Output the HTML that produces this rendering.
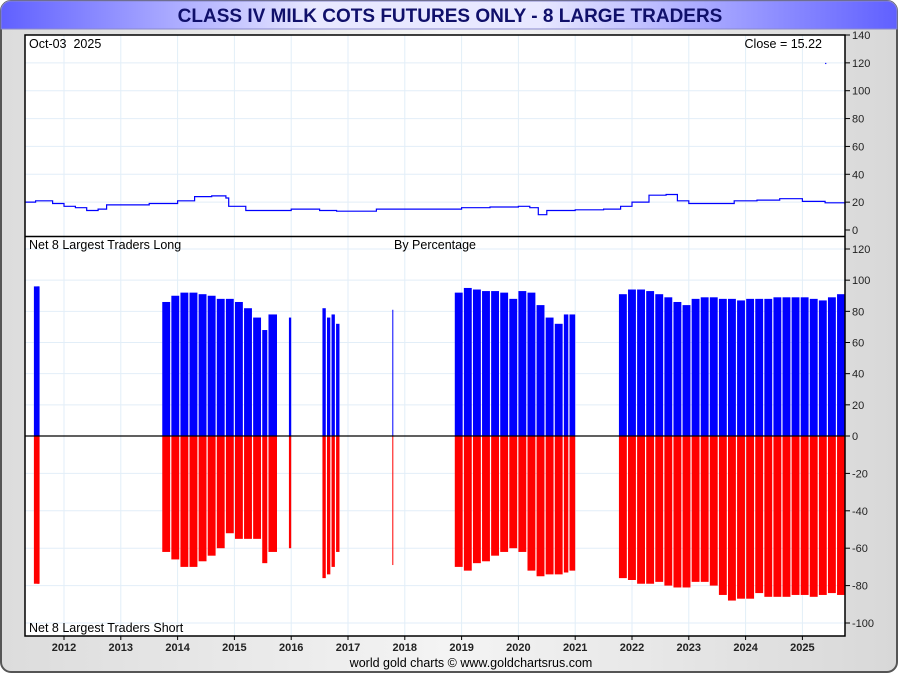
<!DOCTYPE html>
<html><head><meta charset="utf-8"><style>
html,body{margin:0;padding:0;background:#fff}
svg{display:block;font-family:"Liberation Sans",Arial,sans-serif}
</style></head><body>
<svg id="c" width="900" height="675" viewBox="0 0 900 675">
<defs>
<linearGradient id="tb" x1="0" x2="1" y1="0" y2="0"><stop offset="0" stop-color="#6060ff"/><stop offset="0.35" stop-color="#e8e8ff"/><stop offset="0.6" stop-color="#e8e8ff"/><stop offset="1" stop-color="#6060ff"/></linearGradient>
<linearGradient id="bg" x1="0" x2="1" y1="0" y2="0"><stop offset="0" stop-color="#dcdcdc"/><stop offset="0.5" stop-color="#f4f4f4"/><stop offset="1" stop-color="#d8d8d8"/></linearGradient>
</defs>
<rect x="1" y="1" width="896" height="671" rx="10" fill="url(#bg)" stroke="#555" stroke-width="2"/>
<path d="M1 29 V11 A10 10 0 0 1 11 1 H887 A10 10 0 0 1 897 11 V29 Z" fill="url(#tb)" stroke="#8888cc"/>
<text x="450" y="22" text-anchor="middle" font-size="19" font-weight="bold" fill="#10106a">CLASS IV MILK COTS FUTURES ONLY - 8 LARGE TRADERS</text>
<rect x="25" y="35" width="820" height="601" fill="#fff"/>
<g id="grid"></g>
<g id="topg"></g>
<g id="bars"></g>
<line x1="25" x2="845" y1="236.5" y2="236.5" stroke="#000" stroke-width="1.5"/>
<rect x="25" y="35" width="820" height="601" fill="none" stroke="#000" stroke-width="1.5"/>
<g id="axes" font-size="11" fill="#222"></g>
<text x="29" y="48" font-size="12.5" style="white-space:pre">Oct-03  2025</text>
<text x="822" y="48" font-size="12.5" text-anchor="end">Close = 15.22</text>
<text x="29" y="249" font-size="12.5">Net 8 Largest Traders Long</text>
<text x="394" y="249" font-size="12.5">By Percentage</text>
<text x="29" y="632" font-size="12.5">Net 8 Largest Traders Short</text>
<text x="471" y="667" font-size="12.5" text-anchor="middle">world gold charts © www.goldchartsrus.com</text>
</svg>
<script>
const years=[2012,2013,2014,2015,2016,2017,2018,2019,2020,2021,2022,2023,2024,2025];
const topTicks=[0,20,40,60,80,100,120,140];
const botTicks=[120,100,80,60,40,20,0,-20,-40,-60,-80,-100];
const priceDates=[2011.31,2011.5,2011.8,2012.0,2012.2,2012.4,2012.6,2012.75,2013.0,2013.5,2014.0,2014.3,2014.6,2014.85,2014.9,2015.2,2015.5,2016.0,2016.5,2016.8,2017.0,2017.5,2018.0,2018.5,2019.0,2019.5,2020.0,2020.2,2020.35,2020.5,2021.0,2021.5,2021.8,2022.0,2022.3,2022.6,2022.8,2023.0,2023.5,2023.8,2024.2,2024.6,2025.0,2025.4,2025.75];
const priceVals=[20,21,19,17,16,14,15,18,18,19,21,24,24.5,23,17,14,14,15,14,13.5,13.5,15,15,15,16,16.5,17,16,11,14,14.5,15,17,20,25,25.5,21,19,19,21,21.5,22.5,20.5,19.5,18.5];
const outlierDate=2025.4, outlierVal=120;
const barDates=[2011.47,2011.53,
2013.73,2013.89,2014.05,2014.21,2014.37,2014.53,2014.69,2014.85,2015.01,2015.17,2015.33,2015.49,2015.6,
2015.96,
2016.55,2016.63,2016.71,2016.79,
2017.78,
2018.88,2019.04,2019.2,2019.36,2019.52,2019.68,2019.84,2020.0,2020.16,2020.32,2020.48,2020.64,2020.8,2020.9,
2021.77,2021.93,2022.09,2022.25,2022.41,2022.57,2022.73,2022.89,2023.05,2023.21,2023.37,2023.53,2023.69,2023.85,2024.01,2024.17,2024.33,2024.49,2024.65,2024.81,2024.97,2025.13,2025.29,2025.45,2025.61];
const barEnds=[2011.56,2011.57,
0,0,0,0,0,0,0,0,0,0,0,0,2015.75,
2016.0,
0,0,0,2016.85,
2017.785,
0,0,0,0,0,0,0,0,0,0,0,0,0,2021.0,
0,0,0,0,0,0,0,0,0,0,0,0,0,0,0,0,0,0,0,0,0,0,0,0,2025.75];
const longVals=[96,96,
86,90,92,92,91,90,88,88,86,82,76,68,78,
76,
82,76,78,72,
81,
92,95,94,93,93,92,88,93,92,84,76,72,78,78,
91,94,94,93,91,89,86,84,88,89,89,88,88,87,88,88,88,89,89,89,89,88,87,89,91];
const shortVals=[-79,-79,
-62,-66,-70,-70,-67,-64,-60,-52,-55,-55,-55,-68,-62,
-60,
-76,-74,-70,-62,
-69,
-70,-72,-68,-67,-64,-62,-60,-62,-72,-75,-74,-74,-73,-72,
-76,-77,-79,-79,-78,-80,-81,-81,-78,-78,-80,-85,-88,-87,-87,-84,-86,-86,-86,-85,-85,-86,-85,-84,-85];

const NS='http://www.w3.org/2000/svg';
const X0=25,X1=845;
const xS=y=>64+(y-2012)*56.8;
const yTop=v=>230-v*(195/140);
const yBot=v=>v>=0?436-v*(187/120):436-v*1.87;
function mk(t,a,p){const e=document.createElementNS(NS,t);for(const k in a)e.setAttribute(k,a[k]);p.appendChild(e);return e;}
const grid=document.getElementById('grid'),axes=document.getElementById('axes');
years.forEach(y=>{
  const x=xS(y);
  const g=mk('line',{x1:x,x2:x,y1:35,y2:636,stroke:'#e2eef8'},grid);
  
  
  const tk=mk('line',{x1:x,x2:x,y1:636,y2:640,stroke:'#000'},axes);
  
  
  const t=mk('text',{x:x,y:651,'text-anchor':'middle','font-weight':'bold','font-size':11},axes);
  t.textContent=y;
  
  
});
topTicks.forEach(v=>{
  const y=yTop(v);
  if(v>0&&v<140){const g=mk('line',{x1:X0,x2:X1,y1:y,y2:y,stroke:'#e2eef8'},grid);
  
  }
  const tk=mk('line',{x1:X1,x2:X1+5,y1:y,y2:y,stroke:'#000'},axes);
  
  
  const t=mk('text',{x:852,y:y+4},axes);t.textContent=v;
  
  
});
botTicks.forEach(v=>{
  const y=yBot(v);
  const g=mk('line',{x1:X0,x2:X1,y1:y,y2:y,stroke:'#e2eef8'},grid);
  
  
  const tk=mk('line',{x1:X1,x2:X1+5,y1:y,y2:y,stroke:'#000'},axes);
  
  
  const t=mk('text',{x:852,y:y+4},axes);t.textContent=v;
  
  
});
const topG=document.getElementById('topg');
let d='';
priceDates.forEach((t,i)=>{const x=xS(t),y=yTop(priceVals[i]);d+=(i?'H'+x.toFixed(1)+'V':'M'+x.toFixed(1)+' ')+y.toFixed(1);});
const pl=mk('path',{d:d,fill:'none',stroke:'#0000ff','stroke-width':1.2},topG);


const od=mk('rect',{x:xS(outlierDate),y:yTop(outlierVal),width:1.2,height:1.2,fill:'#0000ff'},topG);


const bars=document.getElementById('bars');
barDates.forEach((t,i)=>{
  const end=barEnds[i]||barDates[i+1];
  const x=xS(t),w=Math.max(1,xS(end)-x-(barEnds[i]?0:1.2));
  const lr=mk('rect',{x:x,y:yBot(longVals[i]),width:w,height:436-yBot(longVals[i]),fill:'#0000ff'},bars);
  
  
  const sr=mk('rect',{x:x,y:436,width:w,height:yBot(shortVals[i])-436,fill:'#ff0000'},bars);
  
  
});
const zl=mk('line',{x1:X0,x2:X1,y1:436,y2:436,stroke:'#000','stroke-width':1.2},bars);


</script>
</body></html>
